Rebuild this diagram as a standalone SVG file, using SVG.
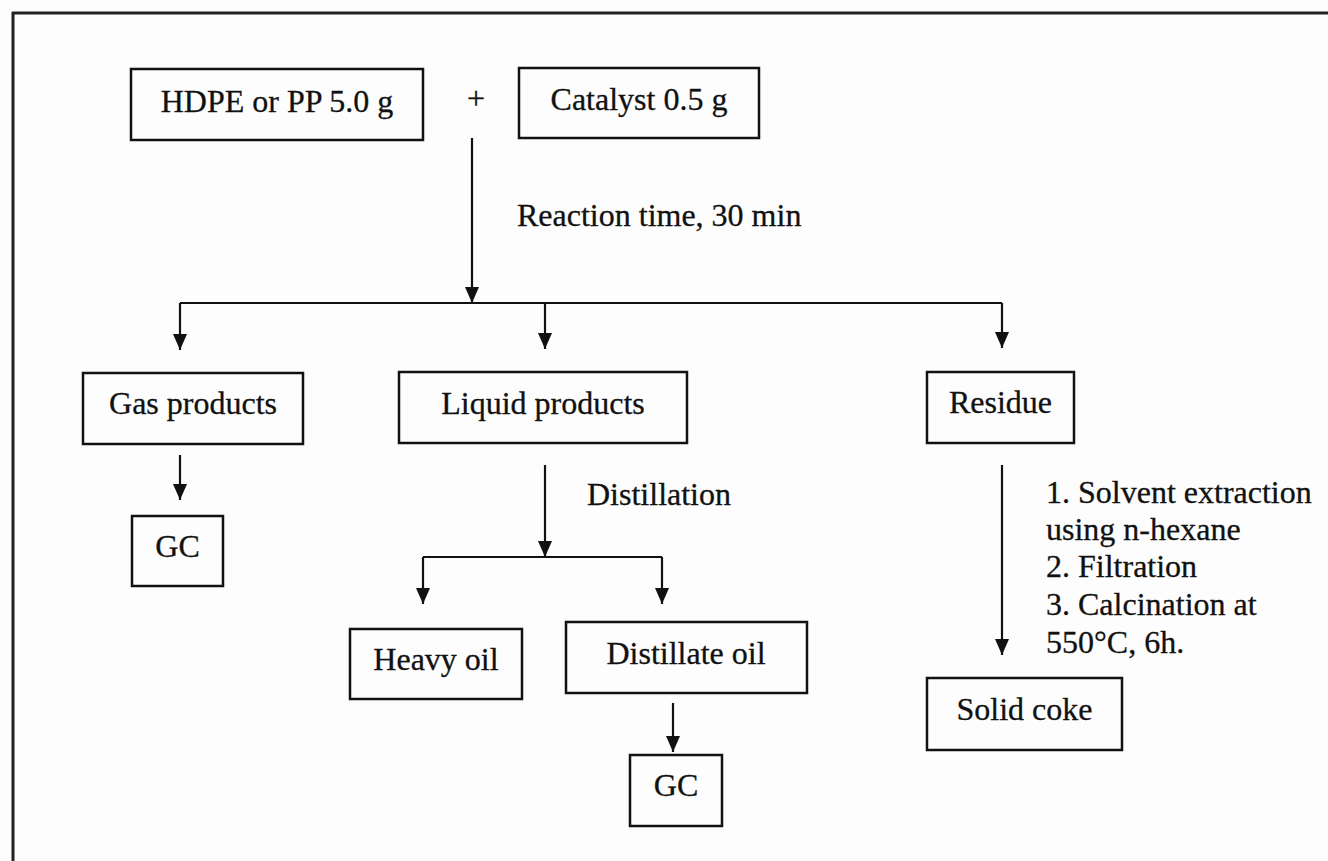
<svg xmlns="http://www.w3.org/2000/svg" width="1328" height="861" viewBox="0 0 1328 861">
<style>
  .box{fill:none;stroke:#111;stroke-width:2.5}
  .t{font-family:"Liberation Serif","Times New Roman",serif;font-size:32px;fill:#111;stroke:#111;stroke-width:0.3}
  .c{text-anchor:middle}
  .ln{fill:none;stroke:#111;stroke-width:2.2}
  .arr{fill:none;stroke:#111;stroke-width:2.2;marker-end:url(#ah)}
</style>
<defs>
  <marker id="ah" markerUnits="userSpaceOnUse" markerWidth="17" markerHeight="15" refX="16" refY="7" orient="auto" viewBox="0 0 17 15">
    <path d="M0,0 L16,7 L0,14 Z" fill="#111"/>
  </marker>
</defs>
<rect width="1328" height="861" fill="#fdfdfd"/>
<g id="frame">
  <line x1="12" y1="13" x2="1328" y2="13" stroke="#222" stroke-width="3"/>
  <line x1="13" y1="12" x2="13" y2="861" stroke="#222" stroke-width="3"/>
</g>
<g id="connectors">
  <path class="arr" d="M472,138 V303"/>
  <path class="ln" d="M180,303 H1002"/>
  <path class="arr" d="M180,303 V350"/>
  <path class="arr" d="M545,303 V349"/>
  <path class="arr" d="M1002,303 V348"/>
  <path class="arr" d="M180,455 V500"/>
  <path class="arr" d="M545,465 V557"/>
  <path class="ln" d="M423,557 H662"/>
  <path class="arr" d="M423,557 V604"/>
  <path class="arr" d="M662,557 V604"/>
  <path class="arr" d="M673,703 V752"/>
  <path class="arr" d="M1002,465 V655"/>
</g>
<g id="labels">
  <text class="t" x="476" y="109" text-anchor="middle">+</text>
  <text class="t" x="517" y="226">Reaction time, 30 min</text>
  <text class="t" x="587" y="505">Distillation</text>
  <text class="t" x="1046" y="503">1. Solvent extraction</text>
  <text class="t" x="1046" y="540">using n-hexane</text>
  <text class="t" x="1046" y="577">2. Filtration</text>
  <text class="t" x="1046" y="615">3. Calcination at</text>
  <text class="t" x="1046" y="653">550°C, 6h.</text>
</g>
<g id="hdpe">
  <rect class="box" x="131" y="69" width="292" height="71"/>
  <text class="t c" x="277" y="112">HDPE or PP 5.0 g</text>
</g>
<g id="catalyst">
  <rect class="box" x="519" y="68" width="240" height="70"/>
  <text class="t c" x="639" y="110">Catalyst 0.5 g</text>
</g>
<g id="gas">
  <rect class="box" x="83" y="373" width="220" height="71"/>
  <text class="t c" x="193" y="414">Gas products</text>
</g>
<g id="liquid">
  <rect class="box" x="399" y="372" width="288" height="71"/>
  <text class="t c" x="543" y="414">Liquid products</text>
</g>
<g id="residue">
  <rect class="box" x="927" y="372" width="147" height="71"/>
  <text class="t c" x="1000.5" y="413">Residue</text>
</g>
<g id="gc1">
  <rect class="box" x="132" y="516" width="91" height="70"/>
  <text class="t c" x="177.5" y="557">GC</text>
</g>
<g id="heavy">
  <rect class="box" x="350" y="629" width="172" height="70"/>
  <text class="t c" x="436" y="670">Heavy oil</text>
</g>
<g id="distillate">
  <rect class="box" x="566" y="622" width="241" height="71"/>
  <text class="t c" x="686" y="664">Distillate oil</text>
</g>
<g id="gc2">
  <rect class="box" x="630" y="755" width="92" height="71"/>
  <text class="t c" x="676" y="796">GC</text>
</g>
<g id="coke">
  <rect class="box" x="927" y="678" width="195" height="72"/>
  <text class="t c" x="1024.5" y="720">Solid coke</text>
</g>
</svg>
